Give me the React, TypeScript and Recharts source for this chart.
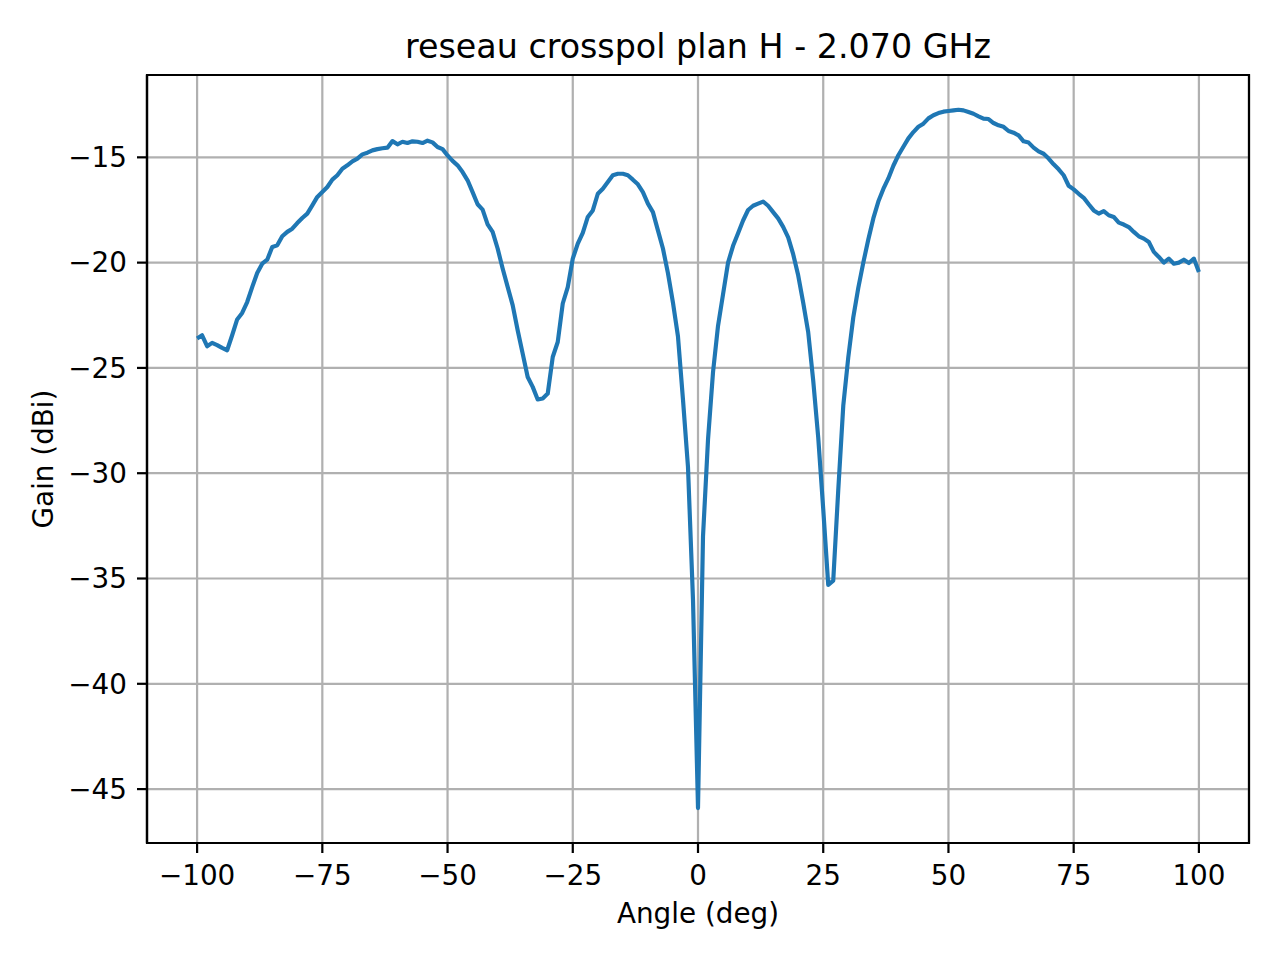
import React from 'react';
import {
  CartesianGrid,
  Label,
  Line,
  LineChart,
  ReferenceArea,
  XAxis,
  YAxis,
} from 'recharts';

// measured every 1 deg from -100 to 100
const ANGLE_START = -100;
const ANGLE_STEP = 1;

const GAIN_DBI = [
  -23.6, -23.45, -23.97, -23.81, -23.92, -24.05, -24.16, -23.45, -22.7, -22.39,
  -21.87, -21.16, -20.49, -20.05, -19.86, -19.26, -19.18, -18.75, -18.54, -18.39,
  -18.12, -17.88, -17.67, -17.28, -16.88, -16.65, -16.41, -16.06, -15.85, -15.54,
  -15.38, -15.19, -15.06, -14.86, -14.78, -14.67, -14.61, -14.57, -14.54, -14.23,
  -14.38, -14.26, -14.32, -14.24, -14.26, -14.32, -14.21, -14.29, -14.51, -14.61,
  -14.91, -15.17, -15.38, -15.7, -16.09, -16.65, -17.23, -17.48, -18.18, -18.54,
  -19.33, -20.28, -21.15, -22.02, -23.21, -24.32, -25.43, -25.9, -26.5, -26.45,
  -26.22, -24.48, -23.77, -21.94, -21.16, -19.81, -19.1, -18.59, -17.83, -17.52,
  -16.73, -16.49, -16.17, -15.85, -15.78, -15.78, -15.85, -16.06, -16.28, -16.65,
  -17.2, -17.6, -18.47, -19.33, -20.5, -21.9, -23.5, -26.5, -29.7, -36.0,
  -45.9,
  -33.0, -28.4, -25.2, -23.0, -21.5, -20.0, -19.2, -18.6, -18.0, -17.5,
  -17.3, -17.2, -17.1, -17.3, -17.6, -17.9, -18.3, -18.8, -19.6, -20.6,
  -21.9, -23.3, -25.6, -28.3, -31.7, -35.3, -35.1, -30.8, -26.8, -24.5,
  -22.6, -21.2, -20.0, -18.9, -17.9, -17.1, -16.5, -16.0, -15.4, -14.9,
  -14.5, -14.1, -13.8, -13.55, -13.4, -13.15, -13.0, -12.9, -12.83, -12.8,
  -12.77, -12.74, -12.77, -12.85, -12.93, -13.05, -13.16, -13.18, -13.37, -13.48,
  -13.55, -13.75, -13.83, -13.96, -14.24, -14.3, -14.54, -14.72, -14.83, -15.06,
  -15.33, -15.57, -15.85, -16.35, -16.52, -16.73, -16.92, -17.23, -17.52, -17.67,
  -17.55, -17.75, -17.83, -18.1, -18.19, -18.31, -18.54, -18.75, -18.86, -19.02,
  -19.49, -19.73, -20.0, -19.81, -20.05, -20.0, -19.86, -20.02, -19.81, -20.44,
];

const X_TICKS = [-100, -75, -50, -25, 0, 25, 50, 75, 100];
const Y_TICKS = [-45, -40, -35, -30, -25, -20, -15];
const X_DOMAIN = [-110, 110];
const Y_DOMAIN = [-47.56, -11.09];

const TITLE = 'reseau crosspol plan H - 2.070 GHz';
const X_LABEL = 'Angle (deg)';
const Y_LABEL = 'Gain (dBi)';

const data = GAIN_DBI.map((gain, i) => ({
  angle: ANGLE_START + i * ANGLE_STEP,
  gain,
}));

const FONT = '"DejaVu Sans", sans-serif';
const LW = 2.22; // 0.8pt at 200 dpi

const fmt = (v: number) => String(v).replace('-', '\u2212');

export default function App() {
  return (
    <div
      style={{
        position: 'absolute',
        left: 0,
        top: 0,
        width: 1280,
        height: 960,
        background: '#fff',
      }}
    >
      <LineChart
        width={1280}
        height={960}
        data={data}
        margin={{ top: 75, right: 31, left: 0, bottom: 0 }}
      >
        <CartesianGrid stroke="#b0b0b0" strokeWidth={LW} />
        <XAxis
          dataKey="angle"
          type="number"
          domain={X_DOMAIN}
          ticks={X_TICKS}
          allowDataOverflow
          height={117}
          tickFormatter={fmt}
          tick={{ fill: '#000', fontSize: 27.8, fontFamily: FONT }}
          tickSize={10}
          tickMargin={12}
          tickLine={{ stroke: '#000', strokeWidth: LW }}
          axisLine={{ stroke: '#000', strokeWidth: LW }}
        >
          <Label
            content={() => (
              <g>
                <text
                  x={698}
                  y={923}
                  textAnchor="middle"
                  fontSize={27.8}
                  fontFamily={FONT}
                  fill="#000"
                >
                  {X_LABEL}
                </text>
                <text
                  x={698}
                  y={58}
                  textAnchor="middle"
                  fontSize={33.3}
                  fontFamily={FONT}
                  fill="#000"
                >
                  {TITLE}
                </text>
              </g>
            )}
          />
        </XAxis>
        <YAxis
          type="number"
          domain={Y_DOMAIN}
          ticks={Y_TICKS}
          allowDataOverflow
          width={147}
          tickFormatter={fmt}
          tick={{ fill: '#000', fontSize: 27.8, fontFamily: FONT }}
          tickSize={10}
          tickMargin={10}
          tickLine={{ stroke: '#000', strokeWidth: LW }}
          axisLine={{ stroke: '#000', strokeWidth: LW }}
        >
          <Label
            content={() => (
              <text
                x={53}
                y={459}
                transform="rotate(-90, 53, 459)"
                textAnchor="middle"
                fontSize={27.8}
                fontFamily={FONT}
                fill="#000"
              >
                {Y_LABEL}
              </text>
            )}
          />
        </YAxis>
        <ReferenceArea
          x1={X_DOMAIN[0]}
          x2={X_DOMAIN[1]}
          y1={Y_DOMAIN[0]}
          y2={Y_DOMAIN[1]}
          fill="none"
          stroke="#000"
          strokeWidth={LW}
        />
        <Line
          type="linear"
          dataKey="gain"
          stroke="#1f77b4"
          strokeWidth={4.17}
          strokeLinejoin="round"
          dot={false}
          isAnimationActive={false}
        />
      </LineChart>
    </div>
  );
}
